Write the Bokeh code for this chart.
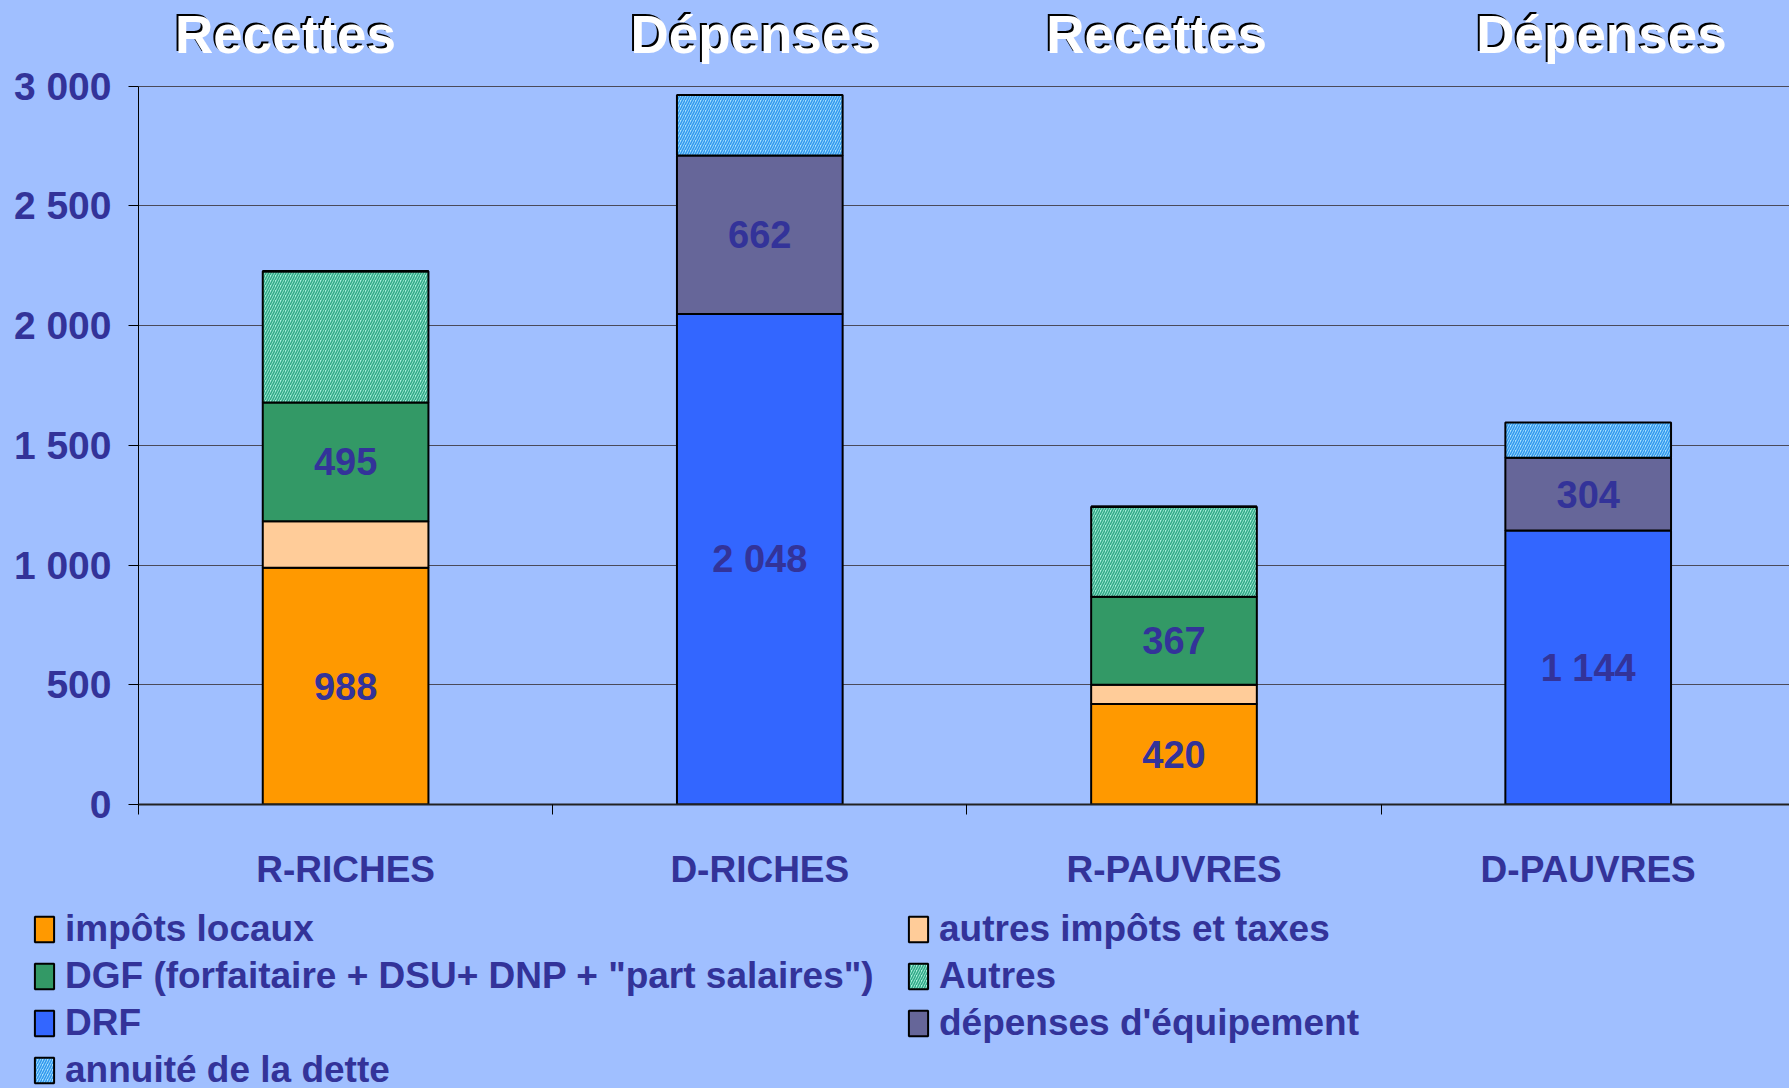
from bokeh.plotting import figure
from bokeh.models import (ColumnDataSource, FixedTicker, Range1d, Legend, LegendItem)
from bokeh.layouts import column
from bokeh.core.properties import value
from bokeh.embed import file_html
from bokeh.resources import INLINE

# ---------------- data ----------------
categories = ["R-RICHES", "D-RICHES", "R-PAUVRES", "D-PAUVRES"]
headers = ["Recettes", "Dépenses", "Recettes", "Dépenses"]
header_pos = [0.355, 1.49, 2.458, 3.532]
impots_locaux = [988, 0, 420, 0]
autres_impots = [195, 0, 80, 0]
dgf = [495, 0, 367, 0]
autres = [548, 0, 376, 0]
drf = [0, 2048, 0, 1144]
equipement = [0, 662, 0, 304]
annuite = [0, 252, 0, 147]
y_ticks = [0, 500, 1000, 1500, 2000, 2500, 3000]
y_tick_labels = ["0", "500", "1 000", "1 500", "2 000", "2 500", "3 000"]

series = [
    ("impôts locaux", impots_locaux, "#FF9900", None, None, True),
    ("autres impôts et taxes", autres_impots, "#FFCC99", None, None, False),
    ("DGF (forfaitaire + DSU+ DNP + \"part salaires\")", dgf, "#339966", None, None, True),
    ("Autres", autres, "#A8F0DC", "/", "#33AA88", False),
    ("DRF", drf, "#3366FF", None, None, True),
    ("dépenses d'équipement", equipement, "#666699", None, None, True),
    ("annuité de la dette", annuite, "#A8E0FF", "/", "#3399EE", False),
]

BG = "#A0BFFF"
LBL = "#333399"
FONT = "Liberation Sans"

W = 1789
H1, H2 = 894, 194
p = figure(width=W, height=H1, output_backend="svg", toolbar_location=None,
           x_range=Range1d(0, 3.986), y_range=Range1d(0, 3357),
           min_border_left=138, min_border_right=0, min_border_top=0,
           min_border_bottom=90)
p.background_fill_color = BG
p.border_fill_color = BG
p.outline_line_color = None

xs = [i + 0.5 for i in range(len(categories))]
bottom = [0.0] * len(categories)
styles = {}
label_xs, label_ys, label_txt = [], [], []
for name, vals, color, hatch, hcolor, show in series:
    top = [b + v for b, v in zip(bottom, vals)]
    src = ColumnDataSource(dict(x=xs, bottom=bottom, top=top))
    kw = dict(fill_color=color, line_color="black", line_width=2)
    if hatch:
        kw.update(hatch_pattern=hatch, hatch_color=hcolor, hatch_scale=5, hatch_weight=1.6)
    styles[name] = kw
    p.vbar(x="x", bottom="bottom", top="top", width=0.4, source=src, **kw)
    if show:
        for x, b, v in zip(xs, bottom, vals):
            if v > 0:
                label_xs.append(x)
                label_ys.append(b + v / 2)
                label_txt.append(f"{v:,}".replace(",", " "))
    bottom = top

p.text(x=label_xs, y=label_ys, text=label_txt, text_align="center", text_baseline="middle",
       text_font=value(FONT), text_font_style="bold", text_font_size="38px", text_color=LBL)

# headers above the plot area (shadow + white)
hy = [3215] * len(headers)
p.text(x=header_pos, y=hy, text=headers, x_offset=-2, y_offset=-2,
       text_align="center", text_baseline="middle", text_font=value(FONT),
       text_font_style="bold", text_font_size="53px", text_color="black")
p.text(x=header_pos, y=hy, text=headers, text_align="center", text_baseline="middle",
       text_font=value(FONT), text_font_style="bold", text_font_size="53px",
       text_color="white")

# axes
xa = p.xaxis[0]
xa.ticker = FixedTicker(ticks=xs, minor_ticks=[0, 1, 2, 3, 4])
xa.major_label_overrides = {x: c for x, c in zip(xs, categories)}
xa.major_tick_out = 0
xa.major_tick_in = 0
xa.minor_tick_out = 10
xa.minor_tick_in = 0
xa.minor_tick_line_color = "black"
xa.axis_line_color = "#222222"
xa.axis_line_width = 2
xa.major_label_standoff = 34
xa.major_label_text_font = FONT
xa.major_label_text_font_style = "bold"
xa.major_label_text_font_size = "37px"
xa.major_label_text_color = LBL

ya = p.yaxis[0]
ya.ticker = FixedTicker(ticks=y_ticks, minor_ticks=[])
ya.bounds = (0, 3000)
ya.major_label_overrides = {t: s for t, s in zip(y_ticks, y_tick_labels)}
ya.major_tick_out = 10
ya.major_tick_in = 0
ya.major_tick_line_color = "black"
ya.axis_line_color = "black"
ya.major_label_standoff = 17
ya.major_label_text_font = FONT
ya.major_label_text_font_style = "bold"
ya.major_label_text_font_size = "39px"
ya.major_label_text_color = LBL

p.xgrid.visible = False
p.ygrid.grid_line_color = "#4a4a5a"
p.ygrid.grid_line_width = 1

# ---------------- legend panel ----------------
q = figure(width=W, height=H2, output_backend="svg", toolbar_location=None,
           x_range=Range1d(0, 1), y_range=Range1d(0, 1),
           x_axis_type=None, y_axis_type=None,
           min_border_left=0, min_border_right=0, min_border_top=0, min_border_bottom=0)
q.background_fill_color = BG
q.border_fill_color = BG
q.outline_line_color = None
q.xgrid.visible = False
q.ygrid.visible = False
for fig in (p, q):
    if hasattr(fig, "frame_align"):
        fig.frame_align = False

order = ["impôts locaux", "DGF (forfaitaire + DSU+ DNP + \"part salaires\")", "DRF",
         "annuité de la dette", "autres impôts et taxes", "Autres", "dépenses d'équipement"]
items = []
for n in order:
    # degenerate, far off-screen proxy renderer carrying the series style for the swatch
    r = q.vbar(x=[60], bottom=[-60], top=[-60], width=0, **styles[n])
    items.append(LegendItem(label=n, renderers=[r]))
legend = Legend(items=items, location=(32, -3), orientation="vertical", nrows=4,
                background_fill_alpha=0, border_line_color=None,
                padding=0, margin=0, spacing=4, label_standoff=9,
                glyph_width=24, glyph_height=32, label_height=43, label_width=837,
                label_text_font=FONT, label_text_font_style="bold",
                label_text_font_size="37px", label_text_color=LBL)
q.add_layout(legend, "center")

layout = column(p, q, spacing=0)
html = file_html(layout, INLINE)
html = html.replace("</head>", f"<style>html, body {{ background-color: {BG}; }}</style></head>", 1)
open("out.html", "w").write(html)
